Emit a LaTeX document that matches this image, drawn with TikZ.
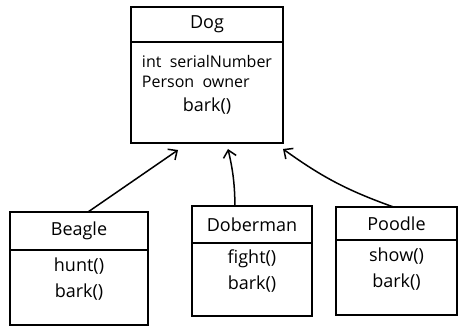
\documentclass[tikz,border=0pt]{standalone}
\usepackage{fontspec}
\setmainfont{Open Sans}
\usepackage{tikz}
\usetikzlibrary{positioning,arrows.meta}

\begin{document}
\begin{tikzpicture}[
    x = 1pt, y = -1pt,
    > = {Straight Barb[length=7pt,width=13pt]},
    line width = 1.5pt,
    font = \fontsize{18}{21}\selectfont,
    head/.style={draw, inner sep=0pt, outer sep=0pt},
    body/.style={draw, inner sep=0pt, outer sep=0pt, align=center, text depth=20pt}
]
    \useasboundingbox (0,0) rectangle (462,328);

    % parent class
    \node[head, minimum width=152pt, minimum height=35pt] (dog) at (207,24.5) {Dog};
    \node[body, minimum width=152pt, minimum height=101pt, below=0pt of dog,
          font=\fontsize{16}{20}\selectfont] (dogbody)
        {\begin{tabular}{@{}l@{}}int \ serialNumber\\Person \ owner\end{tabular}\\[4pt]{\fontsize{18}{21}\selectfont bark()}};

    % subclasses
    \node[head, minimum width=138pt, minimum height=38pt] (beagle) at (79,231) {Beagle};
    \node[body, minimum width=138pt, minimum height=75pt, below=0pt of beagle] (beaglebody)
        {hunt()\\[5pt]bark()};

    \node[head, minimum width=120pt, minimum height=37pt] (doberman) at (252,224.5) {Doberman};
    \node[body, minimum width=120pt, minimum height=73pt, below=0pt of doberman] (dobermanbody)
        {fight()\\[5pt]bark()};

    \node[head, minimum width=121pt, minimum height=33pt] (poodle) at (396.5,223.5) {Poodle};
    \node[body, minimum width=121pt, minimum height=75pt, below=0pt of poodle] (poodlebody)
        {show()\\[5pt]bark()};

    % inheritance
    \draw[->] ([xshift=9pt]beagle.north) -- ([xshift=-29pt,yshift=-7pt]dogbody.south);
    \draw[->] ([xshift=-17pt]doberman.north) to[bend right=6] ([xshift=21pt,yshift=-6pt]dogbody.south);
    \draw[->] ([xshift=-3pt]poodle.north) to[bend left=8] ([xshift=76pt,yshift=-6pt]dogbody.south);
\end{tikzpicture}
\end{document}
